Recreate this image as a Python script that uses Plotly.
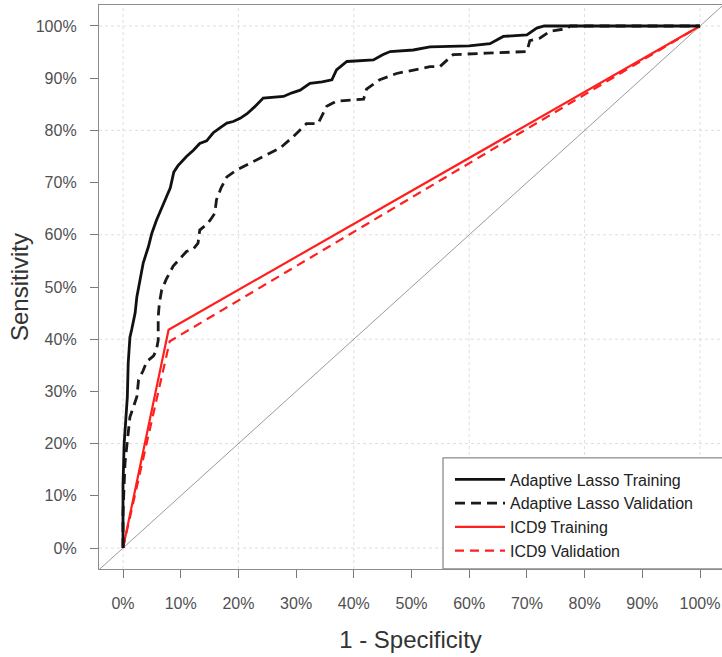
import plotly.graph_objects as go

# ROC curve coordinates: false positive rate (1 - specificity) and sensitivity
lasso_train_fpr = [0.0, 0.0, 0.002, 0.0035, 0.0075, 0.009, 0.012, 0.015, 0.021, 0.024, 0.029,
                   0.035, 0.044, 0.05, 0.058, 0.066, 0.075, 0.082, 0.088, 0.095, 0.11, 0.122,
                   0.133, 0.145, 0.156, 0.168, 0.18, 0.191, 0.203, 0.215, 0.228, 0.243, 0.262,
                   0.278, 0.293, 0.307, 0.324, 0.345, 0.362, 0.37, 0.388, 0.41, 0.434, 0.45,
                   0.463, 0.503, 0.532, 0.6, 0.636, 0.659, 0.7, 0.717, 0.73, 1.0]
lasso_train_sens = [0.0, 0.12, 0.2, 0.226, 0.289, 0.354, 0.404, 0.418, 0.45, 0.481, 0.513,
                    0.546, 0.577, 0.603, 0.628, 0.65, 0.672, 0.69, 0.72, 0.732, 0.75, 0.762,
                    0.775, 0.78, 0.795, 0.805, 0.814, 0.817, 0.823, 0.832, 0.845, 0.862, 0.864,
                    0.865, 0.872, 0.877, 0.89, 0.893, 0.897, 0.916, 0.932, 0.933, 0.935, 0.945,
                    0.951, 0.954, 0.96, 0.962, 0.966, 0.98, 0.983, 0.996, 1.0, 1.0]

lasso_valid_fpr = [0.0, 0.0, 0.0035, 0.009, 0.012, 0.018, 0.024, 0.027, 0.035, 0.041, 0.053,
                   0.058, 0.061, 0.061, 0.063, 0.067, 0.075, 0.087, 0.1, 0.11, 0.122, 0.13,
                   0.133, 0.145, 0.151, 0.159, 0.162, 0.17, 0.18, 0.197, 0.22, 0.249, 0.272,
                   0.295, 0.318, 0.338, 0.353, 0.37, 0.417, 0.422, 0.445, 0.474, 0.532, 0.549,
                   0.572, 0.63, 0.7, 0.705, 0.723, 0.74, 0.769, 0.775, 1.0]
lasso_valid_sens = [0.0, 0.067, 0.163, 0.226, 0.251, 0.27, 0.29, 0.322, 0.34, 0.357, 0.368,
                    0.38, 0.398, 0.443, 0.469, 0.494, 0.515, 0.54, 0.557, 0.568, 0.573, 0.584,
                    0.609, 0.62, 0.628, 0.641, 0.667, 0.69, 0.711, 0.724, 0.737, 0.753, 0.766,
                    0.788, 0.813, 0.813, 0.846, 0.856, 0.86, 0.879, 0.897, 0.909, 0.922, 0.922,
                    0.945, 0.948, 0.951, 0.972, 0.977, 0.99, 0.995, 1.0, 1.0]

icd9_train_fpr = [0.0, 0.079, 1.0]
icd9_train_sens = [0.0, 0.418, 1.0]
icd9_valid_fpr = [0.0, 0.081, 1.0]
icd9_valid_sens = [0.0, 0.396, 1.0]

# chance line y = x, running corner to corner of the panel
chance_line = [-0.1, 1.1]

tick_vals = [i / 10 for i in range(11)]
tick_text = [f"{i * 10}%" for i in range(11)]

FONT = "Liberation Sans, Arial, Helvetica, sans-serif"

fig = go.Figure()

fig.add_trace(go.Scatter(x=chance_line, y=chance_line, mode="lines",
                         line=dict(color="#9a9a9a", width=1), showlegend=False,
                         hoverinfo="skip"))

fig.add_trace(go.Scatter(x=icd9_valid_fpr, y=icd9_valid_sens, mode="lines",
                         name="ICD9 Validation",
                         line=dict(color="#ff1f1f", width=2.2, dash="9px,6px")))
fig.add_trace(go.Scatter(x=icd9_train_fpr, y=icd9_train_sens, mode="lines",
                         name="ICD9 Training",
                         line=dict(color="#ff1f1f", width=2.2)))
fig.add_trace(go.Scatter(x=lasso_valid_fpr, y=lasso_valid_sens, mode="lines",
                         name="Adaptive Lasso Validation",
                         line=dict(color="#1a1a1a", width=2.8, dash="10px,6px")))
fig.add_trace(go.Scatter(x=lasso_train_fpr, y=lasso_train_sens, mode="lines",
                         name="Adaptive Lasso Training",
                         line=dict(color="#111111", width=2.8)))

axis_common = dict(
    tickvals=tick_vals,
    ticktext=tick_text,
    ticks="outside",
    ticklen=8,
    tickwidth=1,
    tickcolor="#7a7a7a",
    tickfont=dict(family=FONT, size=16, color="#505050"),
    showline=True,
    linecolor="#8c8c8c",
    linewidth=1.3,
    showgrid=False,
    zeroline=False,
)

fig.update_xaxes(
    range=[-0.0416, 1.0381],
    mirror=True,
    ticklabelstandoff=12,
    title=dict(text="1 - Specificity", font=dict(family=FONT, size=24, color="#333333"),
               standoff=19),
    **axis_common,
)
fig.update_yaxes(
    range=[-0.0402, 1.0402],
    mirror=False,
    ticklabelstandoff=10,
    title=dict(text="Sensitivity", font=dict(family=FONT, size=24, color="#333333"),
               standoff=0),
    **axis_common,
)

# light dotted grid every 20%
grid_vals = [0.0, 0.2, 0.4, 0.6, 0.8, 1.0]
for g in grid_vals:
    fig.add_shape(type="line", xref="x", yref="paper", x0=g, x1=g, y0=0, y1=1,
                  line=dict(color="#dedede", width=1, dash="dot"), layer="below")
    fig.add_shape(type="line", xref="paper", yref="y", x0=0, x1=1, y0=g, y1=g,
                  line=dict(color="#dedede", width=1, dash="dot"), layer="below")

# legend frame
fig.add_shape(type="rect", xref="paper", yref="paper", x0=0.5522, x1=1.02, y0=0, y1=0.197,
              line=dict(color="#8c8c8c", width=1.3), fillcolor="white", layer="above")

fig.update_layout(
    width=722,
    height=657,
    margin=dict(l=99, r=0, t=5, b=88),
    paper_bgcolor="white",
    plot_bgcolor="white",
    font=dict(family=FONT),
    legend=dict(
        x=0.5634, xanchor="left",
        y=0.189, yanchor="top",
        traceorder="reversed",
        bgcolor="rgba(0,0,0,0)",
        borderwidth=0,
        itemwidth=50,
        font=dict(family=FONT, size=16, color="#222222"),
        tracegroupgap=0,
    ),
)

fig.write_html("out.html")
